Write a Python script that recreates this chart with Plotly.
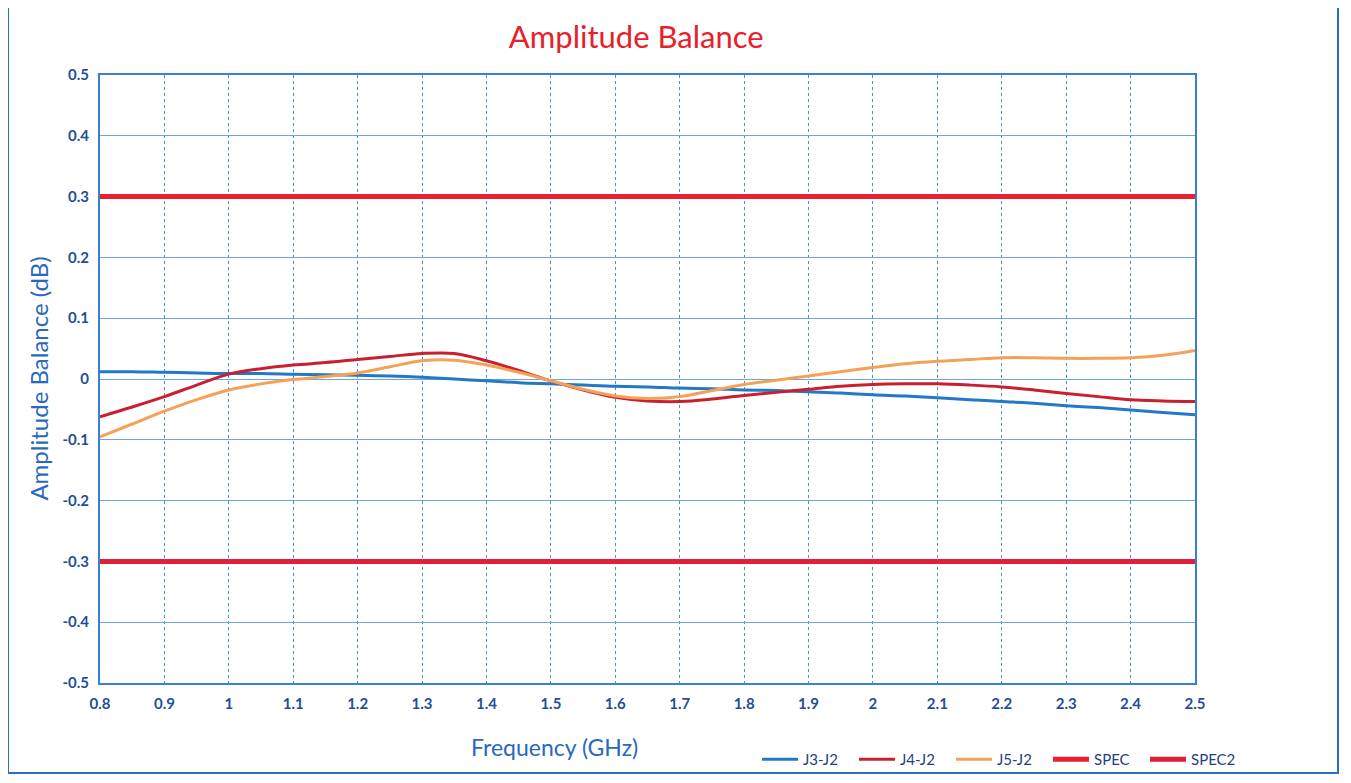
import plotly.graph_objects as go

freq = [0.8, 0.85, 0.9, 0.95, 1.0, 1.05, 1.1, 1.15, 1.2, 1.25, 1.3, 1.35, 1.4, 1.45, 1.5,
        1.55, 1.6, 1.65, 1.7, 1.75, 1.8, 1.85, 1.9, 1.95, 2.0, 2.05, 2.1, 2.15, 2.2,
        2.25, 2.3, 2.35, 2.4, 2.45, 2.5]

j3_j2 = [0.012, 0.012, 0.011, 0.010, 0.009, 0.009, 0.008, 0.007, 0.006, 0.005, 0.003, 0.000,
         -0.003, -0.006, -0.008, -0.010, -0.012, -0.013, -0.015, -0.016, -0.018, -0.019,
         -0.021, -0.023, -0.026, -0.028, -0.031, -0.034, -0.037, -0.040, -0.044, -0.047,
         -0.051, -0.055, -0.059]

j4_j2 = [-0.062, -0.046, -0.029, -0.010, 0.008, 0.017, 0.023, 0.027, 0.032, 0.037, 0.042, 0.042,
         0.030, 0.014, -0.003, -0.018, -0.030, -0.036, -0.037, -0.033, -0.027, -0.022,
         -0.017, -0.012, -0.009, -0.008, -0.008, -0.010, -0.013, -0.018, -0.024, -0.029,
         -0.034, -0.036, -0.037]

j5_j2 = [-0.095, -0.074, -0.053, -0.034, -0.018, -0.008, -0.001, 0.004, 0.010, 0.020, 0.030, 0.031,
         0.023, 0.011, -0.003, -0.017, -0.028, -0.032, -0.029, -0.019, -0.009, -0.002,
         0.005, 0.012, 0.019, 0.025, 0.029, 0.032, 0.035, 0.035, 0.034, 0.034, 0.035,
         0.039, 0.047]

spec_x = [0.8, 2.5]
spec = [0.3, 0.3]
spec2 = [-0.3, -0.3]

x_ticks = [0.8, 0.9, 1.0, 1.1, 1.2, 1.3, 1.4, 1.5, 1.6, 1.7, 1.8, 1.9, 2.0, 2.1, 2.2, 2.3, 2.4, 2.5]
x_tick_labels = ["0.8", "0.9", "1", "1.1", "1.2", "1.3", "1.4", "1.5", "1.6", "1.7", "1.8",
                 "1.9", "2", "2.1", "2.2", "2.3", "2.4", "2.5"]
y_ticks = [0.5, 0.4, 0.3, 0.2, 0.1, 0.0, -0.1, -0.2, -0.3, -0.4, -0.5]
y_tick_labels = ["0.5", "0.4", "0.3", "0.2", "0.1", "0", "-0.1", "-0.2", "-0.3", "-0.4", "-0.5"]

FONT = "Lato, Open Sans, sans-serif"
fig = go.Figure()
fig.add_trace(go.Scatter(x=freq, y=j3_j2, mode="lines", name="J3-J2",
                         line=dict(color="#2378c8", width=3, shape="spline")))
fig.add_trace(go.Scatter(x=freq, y=j4_j2, mode="lines", name="J4-J2",
                         line=dict(color="#c8202e", width=3, shape="spline")))
fig.add_trace(go.Scatter(x=freq, y=j5_j2, mode="lines", name="J5-J2",
                         line=dict(color="#f4a258", width=3, shape="spline")))
fig.add_trace(go.Scatter(x=spec_x, y=spec, mode="lines", name="SPEC",
                         line=dict(color="#e8212e", width=5)))
fig.add_trace(go.Scatter(x=spec_x, y=spec2, mode="lines", name="SPEC2",
                         line=dict(color="#e0203a", width=5)))

fig.update_layout(
    width=1351, height=783,
    margin=dict(l=92, r=164, t=67, b=108),
    paper_bgcolor="white", plot_bgcolor="white",
    font=dict(family=FONT, color="#1f4f9a"),
    title=dict(text="Amplitude Balance", x=0.465, xanchor="center", y=0.963, yanchor="middle",
               font=dict(family=FONT, size=31, color="#e8202a")),
    legend=dict(orientation="h", x=0.6, xanchor="left", y=-0.126, yanchor="middle",
                font=dict(family=FONT, size=15, color="#1f3f80"), bgcolor="rgba(0,0,0,0)",
                entrywidth=46, entrywidthmode="pixels", itemwidth=36, tracegroupgap=0),
    xaxis=dict(range=[0.8, 2.5], tickmode="array", tickvals=x_ticks, ticktext=x_tick_labels,
               showgrid=True, gridcolor="#4a8fd8", gridwidth=1, griddash="dot",
               showline=True, linecolor="#3a7fd0", linewidth=2, mirror=True,
               zeroline=False, ticks="", ticklabelstandoff=6,
               tickfont=dict(family=FONT, size=15, color="#1f4f9a", weight="bold")),
    yaxis=dict(range=[-0.5, 0.5], tickmode="array", tickvals=y_ticks, ticktext=y_tick_labels,
               showgrid=True, gridcolor="#6ea4e0", gridwidth=1,
               showline=True, linecolor="#3a7fd0", linewidth=2, mirror=True,
               zeroline=False, ticks="", ticklabelstandoff=6,
               tickfont=dict(family=FONT, size=15, color="#1f4f9a", weight="bold")),
)

fig.add_annotation(text="Frequency (GHz)", xref="paper", yref="paper", x=0.415, y=-0.105,
                   xanchor="center", yanchor="middle", showarrow=False,
                   font=dict(family=FONT, size=23, color="#2a68c0"))
fig.add_annotation(text="Amplitude Balance (dB)", xref="paper", yref="paper", x=-0.057, y=0.5,
                   xanchor="center", yanchor="middle", textangle=-90, showarrow=False,
                   font=dict(family=FONT, size=24, color="#2a68c0"))

fig.add_shape(type="rect", xref="paper", yref="paper",
              x0=-0.084, x1=1.1306, y0=-0.148, y1=1.118,
              line=dict(color="#2a6fc0", width=2), layer="below")

fig.write_html("out.html")
